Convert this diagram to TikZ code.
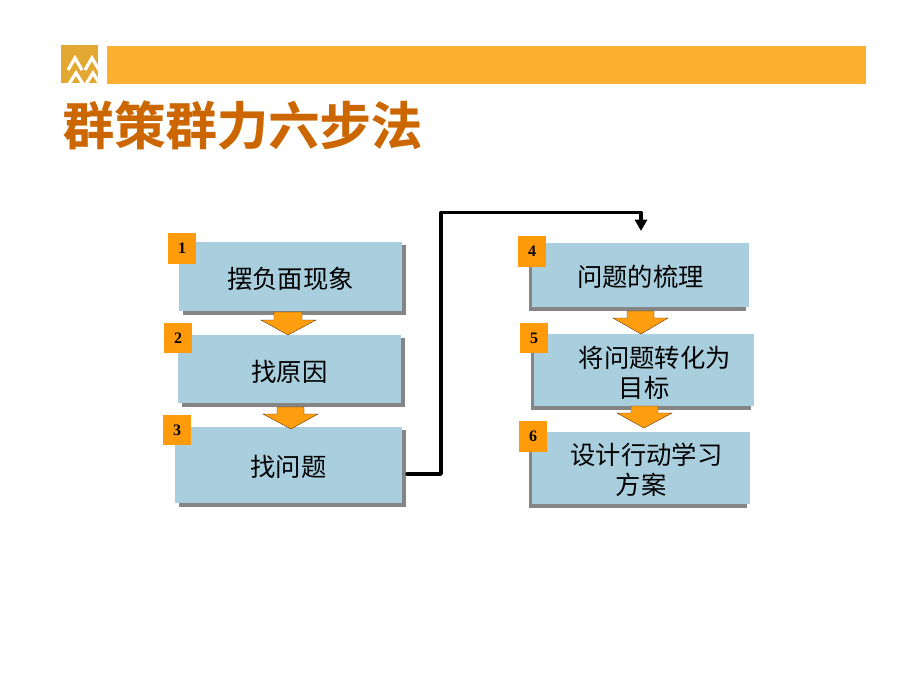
\documentclass[tikz,border=0pt]{standalone}
\usepackage{fontspec}
\setmainfont{Liberation Serif}
\newfontfamily\cjk{Noto Sans CJK SC}
\newfontfamily\cjkbold[FakeBold=0.4]{Noto Sans CJK SC Bold}
\definecolor{barorange}{HTML}{FDB02F}
\definecolor{logogold}{HTML}{E2A832}
\definecolor{titleorange}{HTML}{CC6600}
\definecolor{boxblue}{HTML}{A9CFDE}
\definecolor{shadowgray}{HTML}{858585}
\definecolor{tagorange}{HTML}{FF9A0A}
\definecolor{arroworange}{HTML}{FF9E0F}
\usetikzlibrary{arrows.meta}
\tikzset{
  x=0.75pt,y=-0.75pt,
  stepbox/.style={fill=boxblue,draw=none,inner sep=0pt,align=center,text=black,
    font=\cjk\fontsize{19}{22.5}\selectfont},
  tag/.style={fill=tagorange,draw=none,inner sep=0pt,text=black,
    font=\bfseries\fontsize{12}{14}\selectfont},
  shadowfill/.style={fill=shadowgray,draw=none},
  blockarrow/.style={fill=arroworange,draw=black!60!orange,line width=0.3pt},
  link/.style={line width=2.6pt,black,line cap=round,line join=round},
  chevron/.style={white,line width=2.4pt,line join=miter}
}
% name, x1, y1, x2, y2, shadow dx, text
\newcommand{\stepnode}[7]{%
  \fill[shadowfill] (#2+#6,#3+3) rectangle (#4+#6,#5+4);
  \node[stepbox,minimum width={(#4-#2)*0.75pt},minimum height={(#5-#3)*0.75pt}] (#1) at ({(#2+#4)/2},{(#3+#5)/2}) {\rule{0pt}{19.5pt}#7};
}
\newcommand{\tagnode}[6]{%
  \node[tag,minimum width={(#4-#2)*0.75pt},minimum height={(#5-#3)*0.75pt}] (#1) at ({(#2+#4)/2},{(#3+#5)/2}) {#6};
}
% stem x1, stem x2, top, head x1, head x2, shoulder, tip x, tip y
\newcommand{\downblock}[8]{%
  \path[blockarrow] (#1,#3) -- (#2,#3) -- (#2,#6) -- (#5,#6) -- (#7,#8) -- (#4,#6) -- (#1,#6) -- cycle;
}
\begin{document}
\begin{tikzpicture}
\useasboundingbox (0,0) rectangle (920,690);
\fill[white] (0,0) rectangle (920,690);
% header
\fill[logogold] (61,45) rectangle (98,83);
\begin{scope}
\clip (61,45) rectangle (98,83);
\foreach \cx in {75,92}{
  \draw[chevron] (\cx-7,70) -- (\cx,58) -- (\cx+7,70);
  \draw[chevron] (\cx-6,84) -- (\cx+1,73) -- (\cx+8,84);
}
\end{scope}
\fill[barorange] (107,46) rectangle (866,84);
\node[anchor=center,inner sep=0pt,text=titleorange,font=\cjkbold\fontsize{38.5}{44}\selectfont] (title) at (242.5,125) {群策群力六步法};
% left column
\stepnode{s1}{179}{242}{402}{311}{4}{摆负面现象}
\stepnode{s2}{178}{335}{401}{403}{4}{找原因}
\stepnode{s3}{175}{427}{402}{503}{4}{找问题}
\tagnode{t1}{168}{233}{196}{264}{1}
\tagnode{t2}{164}{323}{192}{353}{2}
\tagnode{t3}{163}{415}{191}{445}{3}
\downblock{274}{302}{312}{261}{316}{320}{288}{335}
\downblock{277}{304}{407}{263}{318}{414}{291}{429}
% right column
\stepnode{s4}{532}{243}{749}{307}{-3}{问题的梳理}
\stepnode{s5}{534}{334}{754}{406}{-3}{\hspace*{16pt}将问题转化为\\目标}
\stepnode{s6}{532}{432}{750}{504}{-3}{\hspace*{8pt}设计行动学习\\方案}
\tagnode{t4}{518}{236}{546}{267}{4}
\tagnode{t5}{520}{323}{548}{353}{5}
\tagnode{t6}{519}{421}{547}{452}{6}
\downblock{627}{654}{311}{613}{668}{318}{641}{334}
\downblock{631}{658}{406}{617}{672}{413}{644}{428}
% connector
\coordinate (linkend) at (641,231);
\coordinate (linkstart) at (407,474);
\draw[link,-{Triangle[length=8.5pt,width=9pt]}] (linkstart) -- (441,474) -- (441,212.5) -- (641,212.5) -- (linkend);
\end{tikzpicture}
\end{document}
